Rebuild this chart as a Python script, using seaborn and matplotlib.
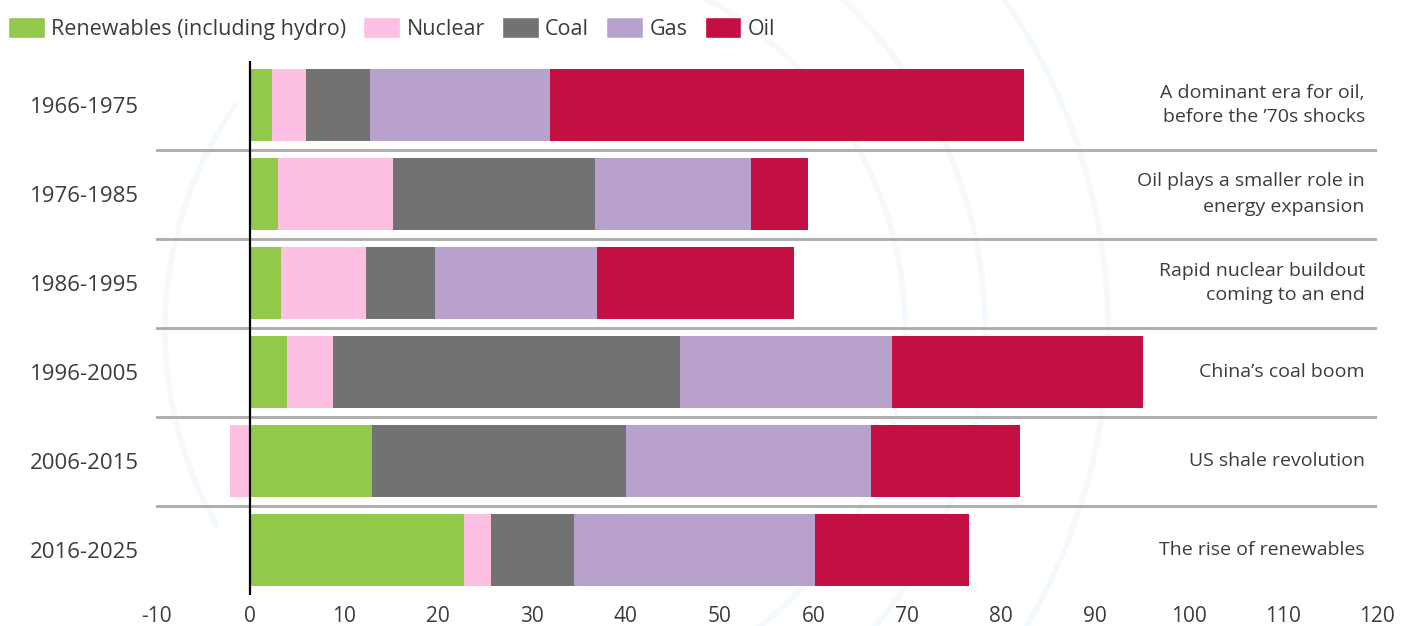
import pandas as pd
import numpy as np
import matplotlib
matplotlib.use("Agg")
import matplotlib.pyplot as plt
from matplotlib.patches import Patch, Arc
import seaborn as sns

sns.set_theme(context="notebook", style="white")
plt.rcParams["font.family"] = ["Open Sans", "DejaVu Sans"]
plt.rcParams["axes.unicode_minus"] = False

periods = ["1966-1975", "1976-1985", "1986-1995", "1996-2005", "2006-2015", "2016-2025"]
sources = ["Renewables (including hydro)", "Nuclear", "Coal", "Gas", "Oil"]
renewables = [2.3, 3.0, 3.3, 4.0, 13.0, 22.8]
nuclear = [3.7, 12.2, 9.1, 4.8, -2.1, 2.9]
coal = [6.8, 21.5, 7.3, 37.0, 27.0, 8.8]
gas = [19.2, 16.6, 17.3, 22.6, 26.1, 25.7]
oil = [50.4, 6.1, 20.9, 26.7, 15.9, 16.4]
notes = [
    "A dominant era for oil,\nbefore the \u201970s shocks",
    "Oil plays a smaller role in\nenergy expansion",
    "Rapid nuclear buildout\ncoming to an end",
    "China\u2019s coal boom",
    "US shale revolution",
    "The rise of renewables",
]
colors = ["#92C84B", "#FDBFE2", "#727272", "#B8A2CD", "#C40F43"]
text_col = "#3c3c3c"

df = pd.DataFrame(
    {"period": periods, sources[0]: renewables, sources[1]: nuclear,
     sources[2]: coal, sources[3]: gas, sources[4]: oil}
)
# stack positives and negatives separately
pos = df[sources].clip(lower=0).cumsum(axis=1)
neg = df[sources].clip(upper=0).cumsum(axis=1)

fig = plt.figure(figsize=(14.13, 6.26), dpi=100)

# faint watermark rings in the background
bg = fig.add_axes([0, 0, 1, 1], zorder=-5)
bg.set_xlim(0, 1413)
bg.set_ylim(626, 0)
bg.axis("off")
for r in [375, 455, 578]:
    bg.add_patch(Arc((530, 330), 2 * r, 2 * r, theta1=-80, theta2=80,
                     color="#f4f9fd", lw=4))
bg.add_patch(Arc((560, 330), 790, 790, theta1=150, theta2=215,
                  color="#f4f9fd", lw=4))

ax = fig.add_axes([156 / 1413, 1 - 594.5 / 626, 1221 / 1413, 534 / 626])
ax.patch.set_alpha(0)

for src, col in reversed(list(zip(sources, colors))):
    for cum in (pos, neg):
        sns.barplot(x=cum[src], y=df["period"], order=periods, orient="h",
                    color=col, saturation=1, width=0.81, errorbar=None,
                    linewidth=0, ax=ax)

for i in range(len(periods) - 1):
    ax.axhline(i + 0.5, color="#aaaaaa", lw=2, zorder=1)
ax.axvline(0, color="black", lw=1.6, zorder=5)

for i, note in enumerate(notes):
    ax.text(118.7, i, note, ha="right", va="center", fontsize=14,
            color=text_col, linespacing=1.5)

ax.set_xlim(-10, 120)
ax.set_ylim(5.5, -0.5)
ax.set_xticks(np.arange(-10, 121, 10))
ax.set_xlabel("")
ax.set_ylabel("")
sns.despine(ax=ax, left=True, bottom=True)
ax.tick_params(axis="x", length=0, pad=8, labelsize=15, labelcolor=text_col)
ax.tick_params(axis="y", length=0, pad=12, labelsize=16, labelcolor=text_col)

handles = [Patch(facecolor=c, label=s) for s, c in zip(sources, colors)]
fig.legend(handles=handles, loc="upper left", bbox_to_anchor=(8 / 1413, 1 - 17 / 626),
           ncol=5, frameon=False, fontsize=15.5, handlelength=1.7, handleheight=1.1,
           handletextpad=0.3, columnspacing=0.8, borderpad=0, borderaxespad=0,
           labelcolor=text_col)

fig.savefig("out.png", dpi=100)
